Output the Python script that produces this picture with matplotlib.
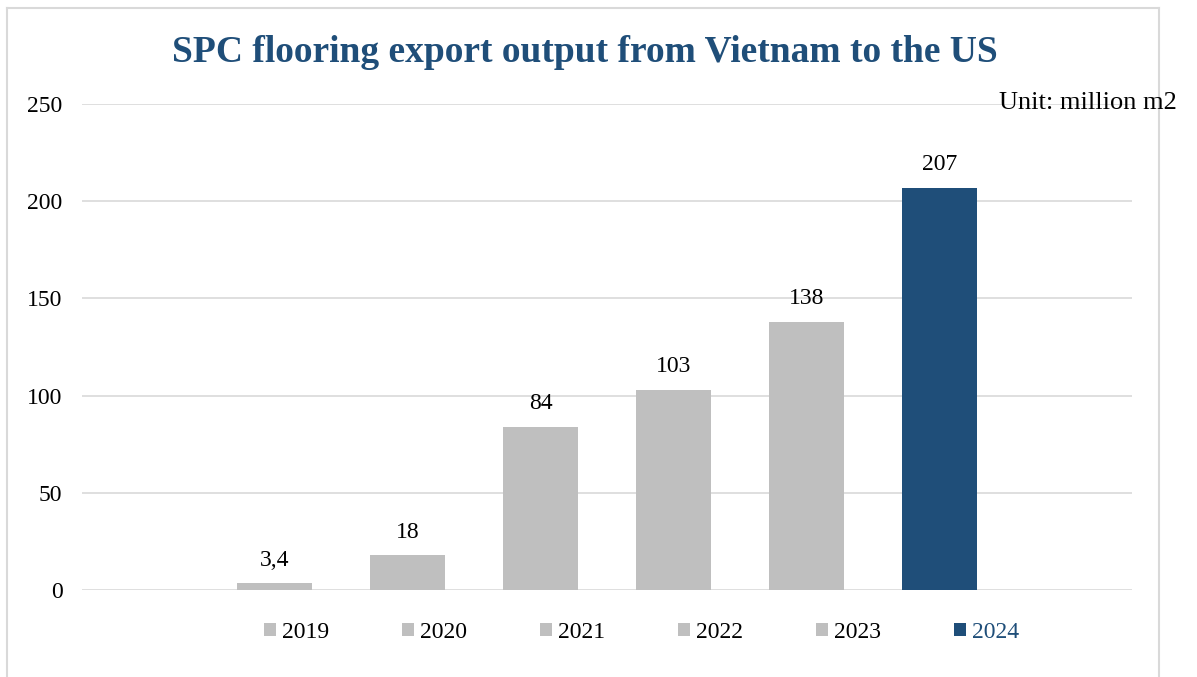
import matplotlib
matplotlib.use('Agg')
import matplotlib.pyplot as plt
from matplotlib.patches import Patch
from matplotlib.lines import Line2D

plt.rcParams['font.family'] = ['Liberation Serif', 'DejaVu Serif']

# data
years = ['2019', '2020', '2021', '2022', '2023', '2024']
values = [3.4, 18, 84, 103, 138, 207]
labels = ['3,4', '18', '84', '103', '138', '207']
grey = '#BFBFBF'
blue = '#1F4E79'
colors = [grey, grey, grey, grey, grey, blue]

fig = plt.figure(figsize=(11.97, 6.77), dpi=100)
ax = fig.add_axes([0.0685, 0.1285, 0.8772, 0.7179])

x = list(range(len(years)))
ax.bar(x, values, width=0.564, color=colors, zorder=3)

for xi, v, lab in zip(x, values, labels):
    ax.annotate(lab, (xi, v), xytext=(0, 9), textcoords='offset points',
                ha='center', va='bottom', fontsize=17, color='black')

ax.set_xlim(-1.447, 6.447)
ax.set_ylim(0, 250)
ax.set_yticks([0, 50, 100, 150, 200, 250])
ax.tick_params(axis='y', length=0, labelsize=17, pad=14)
ax.set_xticks([])
ax.grid(axis='y', color='#D9D9D9', linewidth=1.2, zorder=0)
for s in ax.spines.values():
    s.set_visible(False)

fig.text(0.489, 0.923, 'SPC flooring export output from Vietnam to the US',
         ha='center', va='center', fontsize=27, fontweight='bold', color=blue)
fig.text(0.835, 0.848, 'Unit: million m2', ha='left', va='center', fontsize=19, color='black')

# legend
handles = [Patch(facecolor=c, edgecolor='none') for c in colors]
leg = fig.legend(handles, years, loc='center', bbox_to_anchor=(0.536, 0.066), ncol=6,
                 frameon=False, fontsize=17, handlelength=0.5, handleheight=0.5,
                 handletextpad=0.25, columnspacing=3.1)
leg.get_texts()[-1].set_color(blue)

# outer border
bc = '#D9D9D9'
fig.add_artist(Line2D([7/1197, 7/1197], [0, 1-8/677], color=bc, lw=1.5, transform=fig.transFigure))
fig.add_artist(Line2D([7/1197, 1159/1197], [1-8/677, 1-8/677], color=bc, lw=1.5, transform=fig.transFigure))
fig.add_artist(Line2D([1159/1197, 1159/1197], [0, 1-8/677], color=bc, lw=1.5, transform=fig.transFigure))

fig.savefig('out.png', dpi=100)
